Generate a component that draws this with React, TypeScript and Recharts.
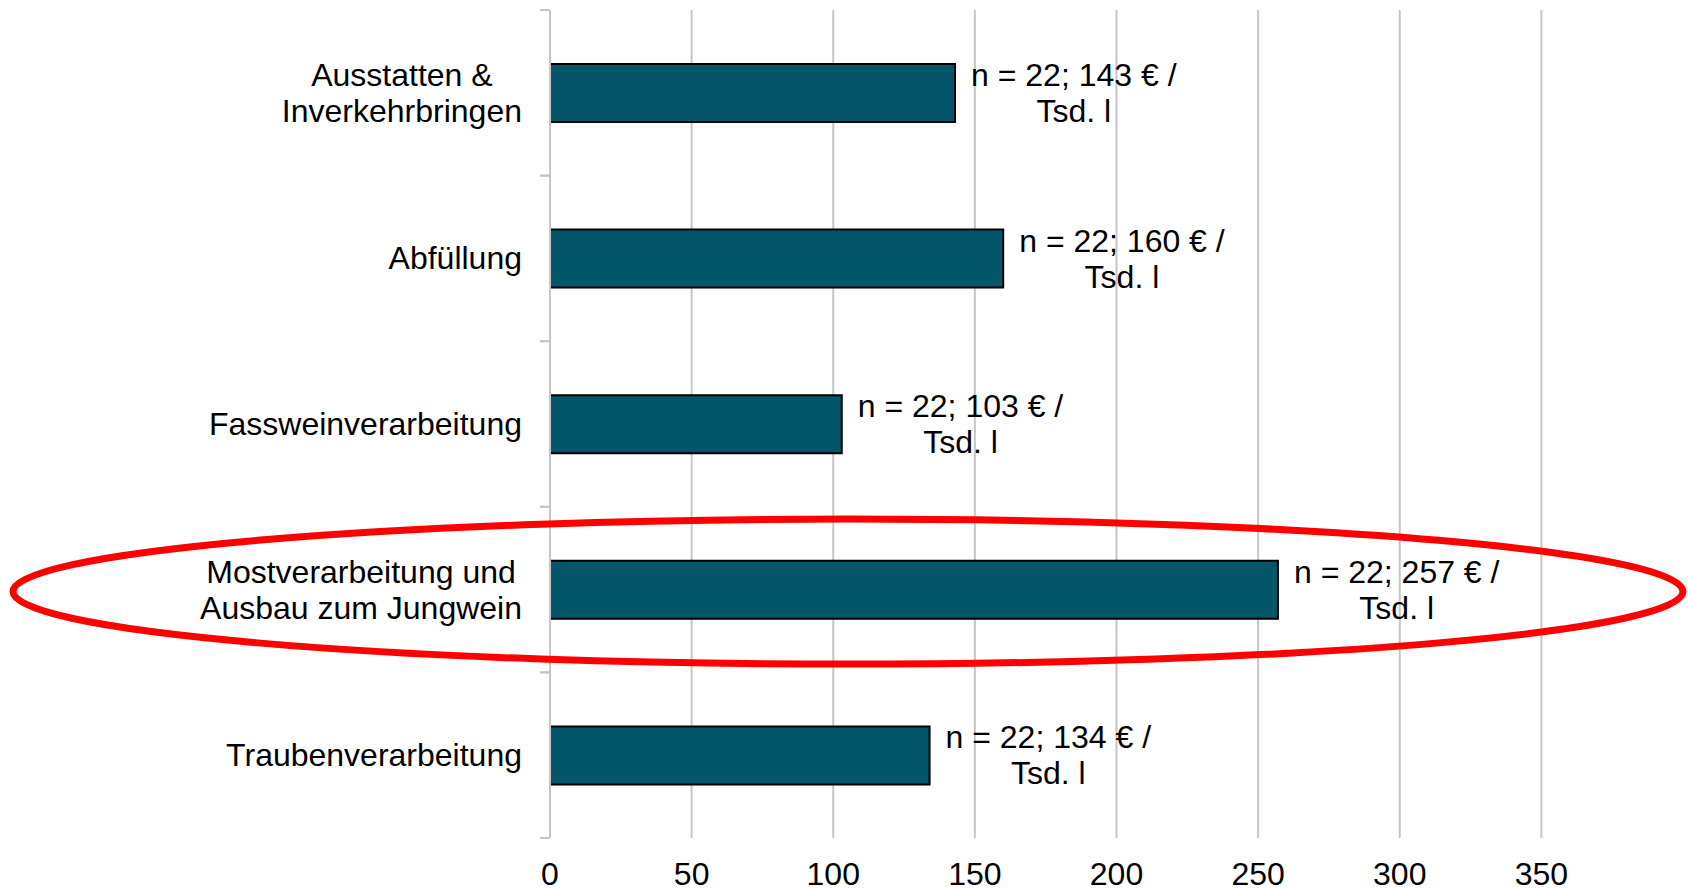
import { BarChart, Bar, XAxis, YAxis, CartesianGrid, LabelList } from 'recharts';

const categories = [
  'Ausstatten &\nInverkehrbringen',
  'Abfüllung',
  'Fassweinverarbeitung',
  'Mostverarbeitung und\nAusbau zum Jungwein',
  'Traubenverarbeitung',
];
const costs = [143, 160, 103, 257, 134];
const sampleSizes = [22, 22, 22, 22, 22];
const xTicks = [0, 50, 100, 150, 200, 250, 300, 350];
const highlighted = 'Mostverarbeitung und\nAusbau zum Jungwein';

const W = 1688;
const H = 889;
const TOP = 10;
const X_AXIS_H = 51;
const Y_AXIS_W = 550;
const FONT = "'Liberation Sans', Arial, sans-serif";
const FONT_SIZE = 32;
const GRID = '#c6c6c6';
const BAR = '#04566A';

const data = categories.map((c, i) => ({ category: c, value: costs[i], n: sampleSizes[i] }));

const ctx = typeof document !== 'undefined' ? document.createElement('canvas').getContext('2d') : null;
function textWidth(s: string) {
  if (!ctx) return s.length * FONT_SIZE * 0.5;
  ctx.font = `${FONT_SIZE}px ${FONT}`;
  return ctx.measureText(s).width;
}

const bandSize = (H - TOP - X_AXIS_H) / categories.length;

const CategoryTick = (props: any) => {
  const { x, y, payload } = props;
  const lines = String(payload.value).split('\n');
  const maxW = Math.max(...lines.map(textWidth));
  const cx = x - 28 - maxW / 2;
  const half = payload.offset || bandSize / 2;
  const lh = 36;
  const start = y - ((lines.length - 1) * lh) / 2;
  return (
    <g>
      <line x1={x - 10} x2={x} y1={y - half} y2={y - half} stroke={GRID} strokeWidth={2} />
      <line x1={x - 10} x2={x} y1={y + half} y2={y + half} stroke={GRID} strokeWidth={2} />
      {lines.map((l, i) => (
        <text key={i} x={cx} y={start + i * lh} textAnchor="middle" dominantBaseline="central"
          fontFamily={FONT} fontSize={FONT_SIZE} fill="#000">{l}</text>
      ))}
    </g>
  );
};

const ValueLabel = (props: any) => {
  const { x, y, width, height, index } = props;
  const d = data[index];
  const line1 = `n = ${d.n}; ${d.value} € /`;
  const cx = x + width + 16 + textWidth(line1) / 2;
  const cy = y + height / 2;
  return (
    <g>
      <text x={cx} y={cy - 18} textAnchor="middle" dominantBaseline="central"
        fontFamily={FONT} fontSize={FONT_SIZE} fill="#000">{line1}</text>
      <text x={cx} y={cy + 18} textAnchor="middle" dominantBaseline="central"
        fontFamily={FONT} fontSize={FONT_SIZE} fill="#000">Tsd. l</text>
    </g>
  );
};

export default function App() {
  const hi = categories.indexOf(highlighted);
  const ellipseCy = TOP + bandSize * (hi + 0.5) + 2;
  return (
    <div style={{ position: 'absolute', left: 0, top: 0, width: W, height: H, background: '#fff' }}>
      <BarChart width={W} height={H} data={data} layout="vertical"
        margin={{ top: TOP, right: 5, bottom: 0, left: 0 }}>
        <CartesianGrid horizontal={false} stroke={GRID} strokeWidth={2} verticalValues={xTicks} />
        <XAxis type="number" domain={[0, 400]} ticks={xTicks} height={X_AXIS_H}
          axisLine={false} tickLine={false} tickMargin={18}
          tick={{ fontFamily: FONT, fontSize: FONT_SIZE, fill: '#000' }} />
        <YAxis type="category" dataKey="category" width={Y_AXIS_W}
          axisLine={{ stroke: GRID, strokeWidth: 2 }} tickLine={false} tickSize={0} tickMargin={0}
          tick={<CategoryTick />} interval={0} />
        <Bar dataKey="value" fill={BAR} stroke="#000" strokeWidth={2} barSize={58} isAnimationActive={false}>
          <LabelList dataKey="value" content={<ValueLabel />} />
        </Bar>
      </BarChart>
      <svg width={W} height={H} style={{ position: 'absolute', left: 0, top: 0, pointerEvents: 'none' }}>
        <ellipse cx={848} cy={ellipseCy} rx={835} ry={72.5} fill="none" stroke="#ff0000" strokeWidth={7} />
      </svg>
    </div>
  );
}
